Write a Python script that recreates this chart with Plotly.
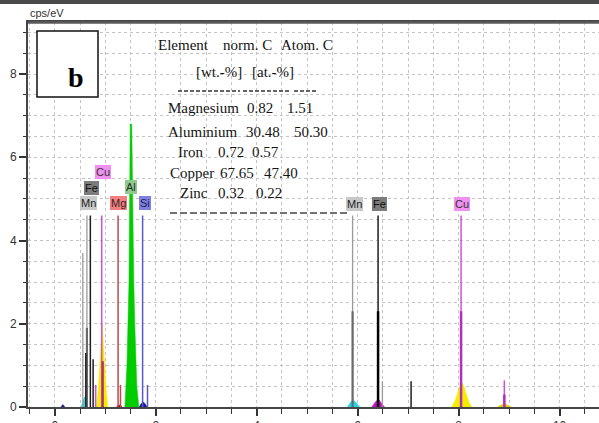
import plotly.graph_objects as go

# ---------------- data (keV, cps/eV) ----------------
# element marker lines
mn_keV = [0.556, 0.637, 5.899, 6.490]
mn_cps = [3.70, 4.60, 4.60, 0.62]
mn_overlap_keV = [0.637, 5.899]
mn_overlap_cps = [1.90, 2.30]

fe_keV = [0.615, 0.705, 0.760, 6.404, 7.058]
fe_cps = [1.30, 4.60, 1.15, 4.60, 0.62]
fe_overlap_keV = [6.404]
fe_overlap_cps = [2.30]

cu_keV = [0.811, 0.930, 8.048, 8.905]
cu_cps = [0.53, 4.60, 4.60, 0.64]
cu_overlap_keV = [8.048, 8.905]
cu_overlap_cps = [2.30, 0.30]
cu_lb_keV = [0.950]
cu_lb_cps = [1.10]

mg_keV = [1.254, 1.302]
mg_cps = [4.60, 0.53]

si_keV = [1.740, 1.837]
si_cps = [4.60, 0.53]

# measured spectrum segments
al_peak_keV = [1.39, 1.41, 1.43, 1.45, 1.47, 1.48, 1.495, 1.525, 1.545, 1.565, 1.585, 1.605, 1.625, 1.665]
al_peak_cps = [0.0, 0.5, 1.0, 2.0, 3.0, 4.6, 6.8, 6.8, 4.6, 3.0, 2.0, 1.0, 0.5, 0.0]

cu_la_keV = [0.83, 0.86, 0.89, 0.92, 0.94, 0.96, 0.99, 1.02, 1.05]
cu_la_cps = [0.0, 0.4, 1.0, 1.7, 2.0, 1.6, 0.9, 0.4, 0.0]

cu_ka_keV = [7.86, 7.93, 7.99, 8.04, 8.07, 8.11, 8.16, 8.21, 8.26]
cu_ka_cps = [0.0, 0.15, 0.38, 0.56, 0.58, 0.48, 0.28, 0.10, 0.0]

cu_kb_keV = [8.77, 8.84, 8.92, 8.99, 9.05]
cu_kb_cps = [0.0, 0.05, 0.07, 0.04, 0.0]

mn_l_keV = [0.52, 0.56, 0.59, 0.61, 0.64]
mn_l_cps = [0.0, 0.12, 0.24, 0.20, 0.0]

mn_ka_keV = [5.80, 5.86, 5.91, 5.96, 6.04]
mn_ka_cps = [0.0, 0.12, 0.17, 0.12, 0.0]

fe_ka_keV = [6.28, 6.35, 6.41, 6.46, 6.53]
fe_ka_cps = [0.0, 0.12, 0.19, 0.12, 0.0]

c_k_keV = [0.12, 0.16, 0.20]
c_k_cps = [0.0, 0.06, 0.0]

si_ka_keV = [1.67, 1.71, 1.75, 1.79, 1.83]
si_ka_cps = [0.0, 0.08, 0.12, 0.08, 0.0]

mg_ka_keV = [1.22, 1.26, 1.30, 1.33]
mg_ka_cps = [0.0, 0.04, 0.05, 0.0]

# quantification table
tbl_elements = ["Magnesium", "Aluminium", "Iron", "Copper", "Zinc"]
tbl_wt = ["0.82", "30.48", "0.72", "67.65", "0.32"]
tbl_at = ["1.51", "50.30", "0.57", "47.40", "0.22"]

x_ticks = [0, 2, 4, 6, 8, 10]
y_ticks = [0, 2, 4, 6, 8]

# ---------------- figure ----------------
W, H = 599, 423
ML, MR, MT, MB = 28, 0, 22, 16
PW, PH = W - ML - MR, H - MT - MB


def px2x(px):
    return (px - ML) / PW


def px2y(py):
    return (H - MB - py) / PH


def vlines(xs, hs):
    X, Y = [], []
    for x, h in zip(xs, hs):
        X += [x, x, None]
        Y += [0, h, None]
    return X, Y


fig = go.Figure()

fills = [
    (cu_la_keV, cu_la_cps, "#f4ee00"),
    (cu_ka_keV, cu_ka_cps, "#f4ee00"),
    (cu_kb_keV, cu_kb_cps, "#d8d000"),
    (mn_l_keV, mn_l_cps, "#20d8e8"),
    (mn_ka_keV, mn_ka_cps, "#20d8e8"),
    (fe_ka_keV, fe_ka_cps, "#c010c0"),
    (c_k_keV, c_k_cps, "#1a1a90"),
    (si_ka_keV, si_ka_cps, "#1a1a90"),
    (mg_ka_keV, mg_ka_cps, "#900000"),
]
for xs, ys, col in fills:
    fig.add_trace(go.Scatter(x=xs, y=ys, mode="lines", fill="toself",
                             fillcolor=col, line=dict(color=col, width=0.5),
                             hoverinfo="skip"))

lines = [
    (mn_keV, mn_cps, "#9a9a9a", 1.3),
    (mn_overlap_keV, mn_overlap_cps, "#6a6a6a", 2.2),
    (fe_keV, fe_cps, "#1e1e1e", 1.5),
    (fe_overlap_keV, fe_overlap_cps, "#000000", 2.5),
    (cu_keV, cu_cps, "#d050d8", 1.5),
    (cu_overlap_keV, cu_overlap_cps, "#b030b8", 2.5),
    (cu_lb_keV, cu_lb_cps, "#b03068", 2.2),
    (mg_keV, mg_cps, "#c04848", 1.5),
    (si_keV, si_cps, "#5858c8", 1.5),
]
for xs, hs, col, w in lines:
    X, Y = vlines(xs, hs)
    fig.add_trace(go.Scatter(x=X, y=Y, mode="lines",
                             line=dict(color=col, width=w), hoverinfo="skip"))

fig.add_trace(go.Scatter(x=al_peak_keV, y=al_peak_cps, mode="lines", fill="toself",
                         fillcolor="#00cc00", line=dict(color="#00cc00", width=0.5),
                         hoverinfo="skip"))

grid = dict(showgrid=True, gridcolor="#c4c4c4", griddash="dot", gridwidth=1)
tfont = dict(family="Liberation Sans", size=12, color="#333333")

fig.update_layout(
    width=W, height=H,
    margin=dict(l=ML, r=MR, t=MT, b=MB),
    paper_bgcolor="white", plot_bgcolor="white",
    showlegend=False,
)
fig.update_xaxes(
    range=[-0.53, 10.78], tickvals=x_ticks, ticktext=[str(v) for v in x_ticks],
    ticks="outside", ticklen=7, tickwidth=1.5, tickcolor="#333",
    showline=True, linecolor="#454545", linewidth=2, mirror=True,
    zeroline=False, tickfont=tfont, automargin=False,
    minor=dict(dtick=0.5, tick0=0, ticks="outside", ticklen=5, tickcolor="#333",
               tickwidth=1.2, **grid),
    **grid,
)
fig.update_yaxes(
    range=[0, 9.25], tickvals=y_ticks, ticktext=[str(v) for v in y_ticks],
    ticks="outside", ticklen=7, tickwidth=1.5, tickcolor="#333",
    showline=True, linecolor="#454545", linewidth=2,
    zeroline=False, tickfont=tfont, automargin=False,
    minor=dict(dtick=0.5, tick0=0, ticks="outside", ticklen=3, tickcolor="#333",
               tickwidth=1.2, **grid),
    **grid,
)

shapes = []
# dark band at the very top (scan frame edge)
shapes.append(dict(type="rect", xref="paper", yref="paper",
                   x0=-0.1, x1=1.1, y0=px2y(4), y1=px2y(-3),
                   fillcolor="#4a4a4a", line=dict(width=0)))
# top border heavier
shapes.append(dict(type="line", xref="paper", yref="paper",
                   x0=0, x1=1.05, y0=px2y(22.5), y1=px2y(22.5),
                   line=dict(color="#5a5a5a", width=2.5)))
# "b" box
shapes.append(dict(type="rect", xref="paper", yref="paper",
                   x0=px2x(37), x1=px2x(98), y0=px2y(97), y1=px2y(31),
                   fillcolor="white", line=dict(color="#111", width=1.5)))
# table dashed rules
for x0, x1 in [(178, 240), (243, 291), (294, 317)]:
    shapes.append(dict(type="line", xref="paper", yref="paper",
                       x0=px2x(x0), x1=px2x(x1), y0=px2y(91), y1=px2y(91),
                       line=dict(color="#333", width=1.3, dash="4px,2px")))
shapes.append(dict(type="line", xref="paper", yref="paper",
                   x0=px2x(170), x1=px2x(348), y0=px2y(213), y1=px2y(213),
                   line=dict(color="#444", width=1.3, dash="7px,3px")))
fig.update_layout(shapes=shapes)

ann = []
ann.append(dict(text="<b>b</b>", xref="paper", yref="paper",
                x=px2x(66), y=px2y(60), showarrow=False,
                font=dict(family="Liberation Serif", size=28, color="#000")))
ann.append(dict(text="cps/eV", xref="paper", yref="paper",
                x=px2x(29), y=px2y(20), xanchor="left", yanchor="bottom",
                showarrow=False, borderpad=0,
                font=dict(family="Liberation Sans", size=11, color="#333")))

serif = dict(family="Liberation Serif", size=15, color="#141414")


def ptxt(t, cx, cy):
    ann.append(dict(text=t, xref="paper", yref="paper", x=px2x(cx), y=px2y(cy),
                    showarrow=False, xanchor="center", yanchor="middle", font=serif))


ptxt("Element", 184, 45)
ptxt("norm. C", 248, 45)
ptxt("Atom. C", 307, 45)
ptxt("[wt.-%]", 219, 72)
ptxt("[at.-%]", 273, 72)
row_y = [108, 132, 152, 173, 193]
name_x = [203, 203, 190, 192, 194]
wt_x = [260, 263, 231, 237, 231]
at_x = [300, 311, 265, 281, 269]
for i in range(len(tbl_elements)):
    ptxt(tbl_elements[i], name_x[i], row_y[i])
    ptxt(tbl_wt[i], wt_x[i], row_y[i])
    ptxt(tbl_at[i], at_x[i], row_y[i])

# element labels (keV position, cps/eV height, text, bg, fg)
labels = [
    (0.671, 4.90, "Mn", "#c8c8c8", "#222"),
    (0.737, 5.27, "Fe", "#7c7c7c", "#111"),
    (0.955, 5.65, "Cu", "#f090f0", "#333"),
    (1.272, 4.90, "Mg", "#f08080", "#402020"),
    (1.509, 5.29, "Al", "#90c890", "#203020"),
    (1.787, 4.90, "Si", "#8080e0", "#1a1a50"),
    (5.945, 4.88, "Mn", "#c8c8c8", "#222"),
    (6.440, 4.88, "Fe", "#7c7c7c", "#111"),
    (8.060, 4.88, "Cu", "#f090f0", "#333"),
]
for x, y, t, bg, fg in labels:
    ann.append(dict(text=t, x=x, y=y, xref="x", yref="y", showarrow=False,
                    bgcolor=bg, borderpad=1, borderwidth=0,
                    font=dict(family="Liberation Sans", size=11, color=fg)))

fig.update_layout(annotations=ann)

fig.write_html("out.html")
